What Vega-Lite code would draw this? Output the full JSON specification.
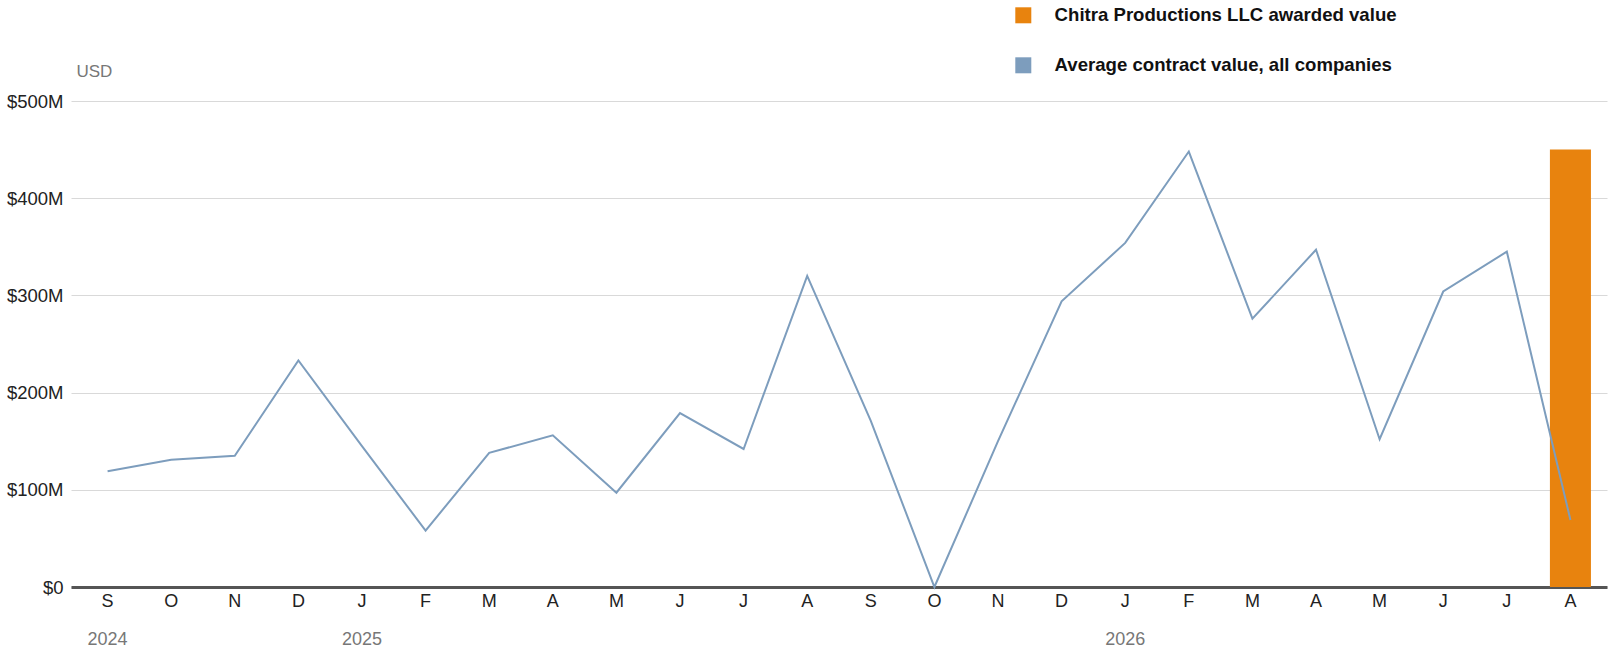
{
  "$schema": "https://vega.github.io/schema/vega-lite/v6.json",
  "autosize": {"type": "none"},
  "padding": {"left": 71, "top": 101, "right": 3, "bottom": 69},
  "width": 1536,
  "height": 486,
  "background": "white",
  "data": {
    "values": [
      {"month": "2024-09", "avg": 119000000, "chitra": null},
      {"month": "2024-10", "avg": 131000000, "chitra": null},
      {"month": "2024-11", "avg": 135000000, "chitra": null},
      {"month": "2024-12", "avg": 233000000, "chitra": null},
      {"month": "2025-01", "avg": 145000000, "chitra": null},
      {"month": "2025-02", "avg": 58000000, "chitra": null},
      {"month": "2025-03", "avg": 138000000, "chitra": null},
      {"month": "2025-04", "avg": 156000000, "chitra": null},
      {"month": "2025-05", "avg": 97000000, "chitra": null},
      {"month": "2025-06", "avg": 179000000, "chitra": null},
      {"month": "2025-07", "avg": 142000000, "chitra": null},
      {"month": "2025-08", "avg": 320000000, "chitra": null},
      {"month": "2025-09", "avg": 171000000, "chitra": null},
      {"month": "2025-10", "avg": 0, "chitra": null},
      {"month": "2025-11", "avg": 150000000, "chitra": null},
      {"month": "2025-12", "avg": 294000000, "chitra": null},
      {"month": "2026-01", "avg": 354000000, "chitra": null},
      {"month": "2026-02", "avg": 448000000, "chitra": null},
      {"month": "2026-03", "avg": 276000000, "chitra": null},
      {"month": "2026-04", "avg": 347000000, "chitra": null},
      {"month": "2026-05", "avg": 152000000, "chitra": null},
      {"month": "2026-06", "avg": 304000000, "chitra": null},
      {"month": "2026-07", "avg": 345000000, "chitra": null},
      {"month": "2026-08", "avg": 69000000, "chitra": 450000000}
    ]
  },
  "layer": [
    {
      "mark": {"type": "bar", "color": "#e8830e"},
      "encoding": {
        "x": {
          "field": "month",
          "type": "ordinal",
          "sort": "ascending",
          "scale": {"paddingInner": 0.355, "paddingOuter": 0.2525},
          "axis": {
            "orient": "bottom",
            "title": null,
            "domain": false,
            "ticks": false,
            "grid": false,
            "labelAngle": 0,
            "labelPadding": 43,
            "labelFontSize": 18,
            "labelColor": "#777777",
            "labelFont": "Liberation Sans",
            "labelExpr": "datum.value == '2024-09' || slice(datum.value, 5) == '01' ? slice(datum.value, 0, 4) : ''"
          }
        },
        "y": {
          "field": "chitra",
          "type": "quantitative",
          "scale": {"domain": [0, 500000000]},
          "axis": {
            "title": "USD",
            "values": [0, 100000000, 200000000, 300000000, 400000000, 500000000],
            "labelExpr": "datum.value == 0 ? '$0' : '$' + datum.value / 1000000 + 'M'"
          }
        },
        "color": {
          "datum": "Chitra Productions LLC awarded value",
          "type": "nominal",
          "scale": {
            "domain": ["Chitra Productions LLC awarded value", "Average contract value, all companies"],
            "range": ["#e8830e", "#7d9dbd"]
          },
          "legend": {
            "orient": "none",
            "legendX": 943,
            "legendY": -95,
            "title": null,
            "padding": 0,
            "symbolType": "square",
            "symbolSize": 256,
            "symbolStrokeWidth": 0,
            "labelFont": "Liberation Sans",
            "labelFontWeight": "bold",
            "labelFontSize": 18.6,
            "labelColor": "#111111",
            "labelOffset": 22,
            "labelLimit": 600,
            "rowPadding": 31
          }
        }
      }
    },
    {
      "mark": {"type": "line", "color": "#7d9dbd", "strokeWidth": 2},
      "encoding": {
        "x": {
          "field": "month",
          "type": "ordinal",
          "sort": "ascending",
          "axis": {
            "orient": "bottom",
            "title": null,
            "domain": true,
            "domainColor": "#555555",
            "domainWidth": 3,
            "ticks": false,
            "grid": false,
            "labelAngle": 0,
            "labelPadding": 5,
            "labelFontSize": 18,
            "labelColor": "#222222",
            "labelFont": "Liberation Sans",
            "labelExpr": "['J','F','M','A','M','J','J','A','S','O','N','D'][toNumber(slice(datum.value, 5)) - 1]"
          }
        },
        "y": {
          "field": "avg",
          "type": "quantitative",
          "axis": {
            "title": "USD",
            "values": [0, 100000000, 200000000, 300000000, 400000000, 500000000],
            "labelExpr": "datum.value == 0 ? '$0' : '$' + datum.value / 1000000 + 'M'"
          }
        }
      }
    }
  ],
  "resolve": {"axis": {"x": "independent"}},
  "config": {
    "view": {"stroke": null},
    "axisY": {
      "domain": false,
      "ticks": false,
      "grid": true,
      "gridColor": "#d9d9d9",
      "gridWidth": 1,
      "labelFont": "Liberation Sans",
      "labelFontSize": 18.5,
      "labelColor": "#222222",
      "labelPadding": 8,
      "titleFont": "Liberation Sans",
      "titleFontSize": 17,
      "titleFontWeight": "normal",
      "titleColor": "#777777",
      "titleAngle": 0,
      "titleAlign": "left",
      "titleBaseline": "alphabetic",
      "titleX": 5,
      "titleY": -25
    }
  }
}
